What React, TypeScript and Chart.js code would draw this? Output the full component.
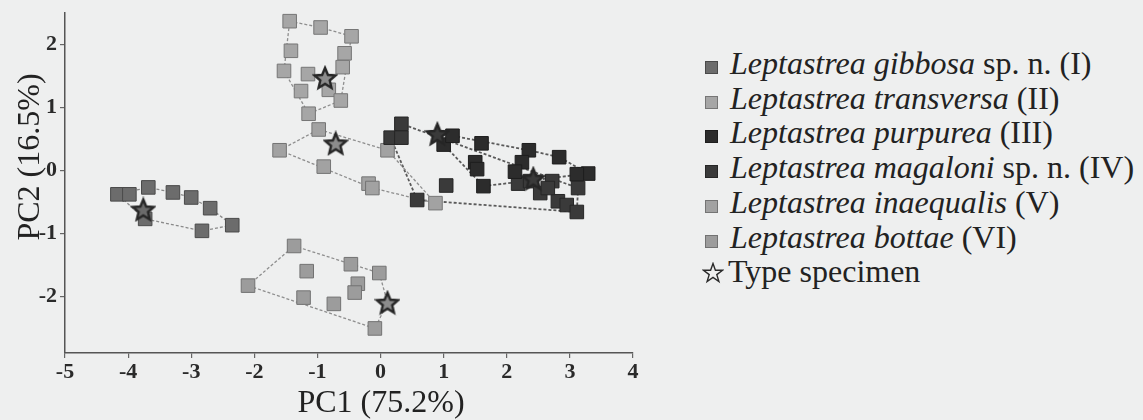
import React, { useEffect, useRef } from 'react';
import { Chart, registerables } from 'chart.js';
Chart.register(...registerables);

const FAMILY = '"Liberation Serif", "Times New Roman", serif';

const X_TICKS = [-5, -4, -3, -2, -1, 0, 1, 2, 3, 4];
const Y_TICKS = [-2, -1, 0, 1, 2];
const X_MIN = -5;
const X_MAX = 4;
const Y_MIN = -2.9;
const Y_MAX = 2.5;

const X_TITLE = 'PC1 (75.2%)';
const Y_TITLE = 'PC2 (16.5%)';

// I  Leptastrea gibbosa
const GIBBOSA_X = [-4.17, -3.98, -3.68, -3.29, -3.0, -2.7, -2.35, -2.83, -3.73];
const GIBBOSA_Y = [-0.38, -0.38, -0.27, -0.35, -0.43, -0.6, -0.87, -0.96, -0.77];
// II Leptastrea transversa
const TRANSVERSA_X = [-1.44, -0.95, -0.46, -1.42, -0.57, -0.6, -1.53, -1.15, -1.26, -0.82, -0.63, -1.14];
const TRANSVERSA_Y = [2.37, 2.27, 2.13, 1.9, 1.86, 1.64, 1.58, 1.53, 1.26, 1.28, 1.11, 0.9];
// III Leptastrea purpurea
const PURPUREA_X = [1.0, 1.14, 1.6, 1.5, 1.53, 2.35, 2.24, 2.13, 2.83, 3.29, 3.11, 1.63];
const PURPUREA_Y = [0.41, 0.55, 0.43, 0.13, 0.02, 0.32, 0.13, -0.02, 0.21, -0.05, -0.06, -0.25];
// IV Leptastrea magaloni
const MAGALONI_X = [0.33, 0.16, 0.33, 0.58, 1.04, 2.18, 2.37, 2.53, 2.72, 2.81, 2.95, 3.11, 3.13, 2.65];
const MAGALONI_Y = [0.74, 0.52, 0.52, -0.47, -0.24, -0.21, -0.17, -0.36, -0.17, -0.49, -0.55, -0.66, -0.28, -0.28];
// V  Leptastrea inaequalis
const INAEQUALIS_X = [-0.98, -1.6, -0.9, -0.19, -0.13, 0.11, 0.87];
const INAEQUALIS_Y = [0.65, 0.32, 0.06, -0.21, -0.28, 0.32, -0.52];
// VI Leptastrea bottae
const BOTTAE_X = [-1.37, -1.17, -0.47, -0.02, -0.36, -0.41, -2.1, -1.22, -0.74, -0.09];
const BOTTAE_Y = [-1.2, -1.6, -1.49, -1.63, -1.8, -1.94, -1.83, -2.02, -2.12, -2.51];

// Type specimens (group index: 0 I, 1 II, 2 III, 3 IV, 4 V, 5 VI)
const TYPE_X = [-3.76, -0.88, -0.71, 0.11, 0.9, 2.42];
const TYPE_Y = [-0.62, 1.47, 0.43, -2.1, 0.58, -0.13];
const TYPE_GROUP = [0, 1, 4, 5, 2, 3];

const SPECIES_ITALIC = [
  'Leptastrea gibbosa',
  'Leptastrea transversa',
  'Leptastrea purpurea',
  'Leptastrea magaloni',
  'Leptastrea inaequalis',
  'Leptastrea bottae',
];
const SPECIES_SUFFIX = [' sp. n. (I)', ' (II)', ' (III)', ' sp. n. (IV)', ' (V)', ' (VI)'];
const TYPE_LABEL = 'Type specimen';

const FILLS = ['#6c6c6c', '#a6a6a6', '#2c2c2c', '#3a3a3a', '#a2a2a2', '#9c9c9c'];
const BORDERS = ['#4a4a4a', '#767676', '#1e1e1e', '#262626', '#747474', '#727272'];
const HULL_COLORS = ['#8a8a8a', '#8e8e8e', '#5a5a5a', '#5a5a5a', '#8e8e8e', '#8e8e8e'];
const HULL_WIDTHS = [1.3, 1.3, 1.8, 1.8, 1.3, 1.3];
const STAR_FILLS = ['#6a6a6a', '#8c8c8c', '#3a3a3a', '#3a3a3a', '#8c8c8c', '#8c8c8c'];

const GROUP_X = [GIBBOSA_X, TRANSVERSA_X, PURPUREA_X, MAGALONI_X, INAEQUALIS_X, BOTTAE_X];
const GROUP_Y = [GIBBOSA_Y, TRANSVERSA_Y, PURPUREA_Y, MAGALONI_Y, INAEQUALIS_Y, BOTTAE_Y];

function makeStar(fill: string, stroke: string, size: number) {
  const c = document.createElement('canvas');
  c.width = size;
  c.height = size;
  const ctx = c.getContext('2d')!;
  const cx = size / 2;
  const cy = size / 2 + 1;
  const R = size / 2 - 2;
  const r = R * 0.45;
  ctx.beginPath();
  for (let i = 0; i < 10; i++) {
    const rad = i % 2 === 0 ? R : r;
    const a = -Math.PI / 2 + (i * Math.PI) / 5;
    const px = cx + rad * Math.cos(a);
    const py = cy + rad * Math.sin(a);
    if (i === 0) ctx.moveTo(px, py);
    else ctx.lineTo(px, py);
  }
  ctx.closePath();
  ctx.fillStyle = fill;
  ctx.fill();
  ctx.lineWidth = 2.4;
  ctx.lineJoin = 'miter';
  ctx.strokeStyle = stroke;
  ctx.stroke();
  return c;
}

function convexHull(points: number[][]) {
  const pts = points.slice().sort((a, b) => (a[0] === b[0] ? a[1] - b[1] : a[0] - b[0]));
  if (pts.length < 3) return pts;
  const cross = (o: number[], a: number[], b: number[]) =>
    (a[0] - o[0]) * (b[1] - o[1]) - (a[1] - o[1]) * (b[0] - o[0]);
  const lower: number[][] = [];
  for (const p of pts) {
    while (lower.length >= 2 && cross(lower[lower.length - 2], lower[lower.length - 1], p) <= 0) lower.pop();
    lower.push(p);
  }
  const upper: number[][] = [];
  for (let i = pts.length - 1; i >= 0; i--) {
    const p = pts[i];
    while (upper.length >= 2 && cross(upper[upper.length - 2], upper[upper.length - 1], p) <= 0) upper.pop();
    upper.push(p);
  }
  upper.pop();
  lower.pop();
  return lower.concat(upper);
}

const hullPlugin = {
  id: 'hulls',
  beforeDatasetsDraw(chart: any) {
    const { ctx } = chart;
    const xs = chart.scales.x;
    const ys = chart.scales.y;
    ctx.save();
    GROUP_X.forEach((gx, gi) => {
      const pts: number[][] = gx.map((v, i) => [xs.getPixelForValue(v), ys.getPixelForValue(GROUP_Y[gi][i])]);
      TYPE_X.forEach((v, i) => {
        if (TYPE_GROUP[i] === gi) pts.push([xs.getPixelForValue(v), ys.getPixelForValue(TYPE_Y[i])]);
      });
      const hull = convexHull(pts);
      ctx.beginPath();
      hull.forEach((p, i) => (i === 0 ? ctx.moveTo(p[0], p[1]) : ctx.lineTo(p[0], p[1])));
      ctx.closePath();
      ctx.setLineDash([3, 2]);
      ctx.strokeStyle = HULL_COLORS[gi];
      ctx.lineWidth = HULL_WIDTHS[gi];
      ctx.stroke();
    });
    ctx.restore();
  },
};

export default function App() {
  const ref = useRef<HTMLCanvasElement>(null);

  useEffect(() => {
    document.body.style.margin = '0';
    document.body.style.background = '#eeefef';
    const stars = TYPE_GROUP.map((g) => makeStar(STAR_FILLS[g], '#262626', 26));
    const datasets: any[] = [
      {
        label: TYPE_LABEL,
        data: TYPE_X.map((v, i) => ({ x: v, y: TYPE_Y[i] })),
        pointStyle: stars,
        pointRadius: 12,
      },
    ];
    GROUP_X.forEach((gx, gi) => {
      datasets.push({
        label: SPECIES_ITALIC[gi] + SPECIES_SUFFIX[gi],
        data: gx.map((v, i) => ({ x: v, y: GROUP_Y[gi][i] })),
        pointStyle: 'rect',
        pointRadius: 9.6,
        backgroundColor: FILLS[gi],
        borderColor: BORDERS[gi],
        borderWidth: 1,
      });
    });
    const tickFont = { family: FAMILY, size: 22, weight: 'bold' as const };
    const chart = new Chart(ref.current!, {
      type: 'scatter',
      data: { datasets },
      options: {
        animation: false,
        responsive: false,
        devicePixelRatio: 1,
        layout: { padding: { left: 0, top: 11, right: 47, bottom: 0 } },
        plugins: { legend: { display: false }, tooltip: { enabled: false } },
        scales: {
          x: {
            type: 'linear',
            min: X_MIN,
            max: X_MAX,
            afterBuildTicks: (s: any) => {
              s.ticks = X_TICKS.map((v) => ({ value: v }));
            },
            afterFit: (s: any) => {
              s.height = 67;
              s.paddingLeft = 0;
              s.paddingRight = 0;
            },
            grid: { drawOnChartArea: false, tickLength: 5, color: '#666', lineWidth: 1.2 },
            border: { color: '#555', width: 1.5 },
            ticks: { color: '#2a2a2a', font: tickFont, padding: 1, autoSkip: false, maxRotation: 0 },
          },
          y: {
            type: 'linear',
            min: Y_MIN,
            max: Y_MAX,
            afterBuildTicks: (s: any) => {
              s.ticks = Y_TICKS.map((v) => ({ value: v }));
            },
            afterFit: (s: any) => {
              s.width = 65;
              s.paddingTop = 0;
              s.paddingBottom = 0;
            },
            grid: { drawOnChartArea: false, tickLength: 5, color: '#666', lineWidth: 1.2 },
            border: { color: '#555', width: 1.5 },
            ticks: { color: '#2a2a2a', font: tickFont, padding: 3, autoSkip: false },
          },
        },
      },
      plugins: [hullPlugin],
    });
    return () => chart.destroy();
  }, []);

  const legendRow = (i: number) => (
    <div key={i} style={{ whiteSpace: 'nowrap' }}>
      <span
        style={{
          display: 'inline-block',
          width: 11,
          height: 11,
          background: FILLS[i],
          border: `1px solid ${BORDERS[i]}`,
          marginRight: 12,
        }}
      />
      <i>{SPECIES_ITALIC[i]}</i>
      {SPECIES_SUFFIX[i]}
    </div>
  );

  return (
    <div
      style={{
        position: 'fixed',
        left: 0,
        top: 0,
        width: 1143,
        height: 420,
        background: '#eeefef',
        overflow: 'hidden',
        fontFamily: FAMILY,
        color: '#222',
      }}
    >
      <canvas ref={ref} width={680} height={420} style={{ position: 'absolute', left: 0, top: 0 }} />
      <div
        style={{
          position: 'absolute',
          left: 381,
          top: 385,
          transform: 'translateX(-50%)',
          fontSize: 32,
          lineHeight: '32px',
          whiteSpace: 'nowrap',
        }}
      >
        {X_TITLE}
      </div>
      <div
        style={{
          position: 'absolute',
          left: 28 - 100,
          top: 157 - 16,
          width: 200,
          height: 32,
          textAlign: 'center',
          transform: 'rotate(-90deg)',
          fontSize: 32,
          lineHeight: '32px',
          whiteSpace: 'nowrap',
        }}
      >
        {Y_TITLE}
      </div>
      <div
        style={{
          position: 'absolute',
          left: 705,
          top: 46,
          fontSize: 32,
          lineHeight: '34.7px',
        }}
      >
        {SPECIES_ITALIC.map((_, i) => legendRow(i))}
        <div style={{ whiteSpace: 'nowrap' }}>
          <svg width={22} height={22} viewBox="0 0 22 22" style={{ marginLeft: -3, marginRight: 4, verticalAlign: -2 }}>
            <polygon
              points="11,1.5 13.4,8.2 20.5,8.3 14.8,12.6 16.9,19.5 11,15.4 5.1,19.5 7.2,12.6 1.5,8.3 8.6,8.2"
              fill="none"
              stroke="#2a2a2a"
              strokeWidth={1.4}
            />
          </svg>
          {TYPE_LABEL}
        </div>
      </div>
    </div>
  );
}
